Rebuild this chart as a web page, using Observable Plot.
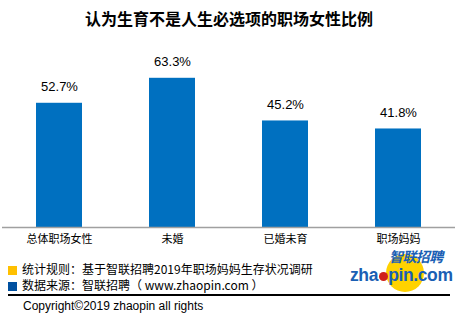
<!DOCTYPE html>
<html><head><meta charset="utf-8">
<script src="https://cdn.jsdelivr.net/npm/d3@7"></script>
<script src="https://cdn.jsdelivr.net/npm/@observablehq/plot@0.6"></script>
<style>
body{margin:0;background:#fff;font-family:"Noto Sans CJK SC","Liberation Sans",sans-serif;}
#wrap{position:relative;width:458px;height:318px;overflow:hidden;}
#title{height:36px;line-height:36px;text-align:center;font-size:16px;font-weight:bold;color:#000;}
.row{position:absolute;left:8px;font-size:12px;color:#000;line-height:14px;white-space:nowrap;}
.sq{display:inline-block;width:9px;height:9px;margin-right:5px;vertical-align:-1px;}
</style></head>
<body><div id="wrap">
<div id="title">认为生育不是人生必选项的职场女性比例</div>
<div id="chart"></div>
<div class="row" style="top:262px"><span class="sq" style="background:#ffc000"></span>统计规则：基于智联招聘2019年职场妈妈生存状况调研</div>
<div class="row" style="top:278px"><span class="sq" style="background:#0050a0"></span>数据来源：智联招聘（ www.zhaopin.com ）</div>
<div style="position:absolute;left:8px;top:294px;width:442px;height:1.5px;background:#000"></div>
<div class="row" style="top:299px;left:23px;font-family:'Liberation Sans',Arial,sans-serif">Copyright©2019 zhaopin all rights</div>
<div style="position:absolute;left:386px;top:254px;width:38px;height:38px;border-radius:50%;background:#ffd200"></div>
<div style="position:absolute;left:389px;top:250px;font-size:14px;font-weight:bold;font-style:italic;color:#1a5fb4;letter-spacing:-0.6px;line-height:13px">智联招聘</div>
<div style="position:absolute;left:350px;top:267px;font-size:17.5px;font-weight:bold;color:#1a5fb4;font-family:'Liberation Sans',Arial,sans-serif;line-height:17px;letter-spacing:-0.4px">zha<span style="color:transparent">o</span>pin.com</div>
<div style="position:absolute;left:379px;top:272px;width:9px;height:9px;border-radius:50%;background:#d0201a"></div>
</div>
<script>
const categories = ["总体职场女性","未婚","已婚未育","职场妈妈"];
const values = [52.7, 63.3, 45.2, 41.8];
const labels = ["52.7%","63.3%","45.2%","41.8%"];
const data = categories.map((c,i)=>({c, v: values[i], label: labels[i]}));
const chart = Plot.plot({
  width: 458, height: 216,
  marginTop: 26, marginBottom: 25, marginLeft: 2, marginRight: 3,
  style: {fontFamily: '"Noto Sans CJK SC", sans-serif', background: "#fff"},
  x: {domain: categories, paddingInner: 0.59, paddingOuter: 0.295, label: null},
  y: {domain: [0, 70], axis: null},
  marks: [
    Plot.barY(data, {x: "c", y: "v", fill: "#0070c0"}),
    Plot.ruleY([0], {stroke: "#a0a0a0", strokeWidth: 1.5}),
    Plot.text(data, {x: "c", y: "v", text: "label", dy: -16, fontSize: 13, fill: "#000", fontFamily: '"Liberation Sans", Arial, sans-serif'}),
    Plot.axisX({tickSize: 0, tickPadding: 8, fontSize: 11, fill: "#000", label: null})
  ]
});
document.getElementById("chart").appendChild(chart);
</script>
</body></html>
